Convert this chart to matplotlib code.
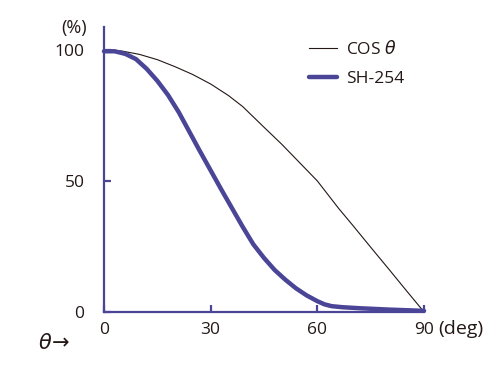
import numpy as np
import matplotlib.pyplot as plt

plt.rcParams['font.family'] = ['Open Sans', 'DejaVu Sans']
plt.rcParams['mathtext.fontset'] = 'dejavusans'

# ── data ─────────────────────────────────────────────────────────────────────
angle_cos = [0, 5, 10, 15, 20, 25, 30, 35, 39, 45, 50, 55, 60, 66, 70, 75, 80, 85, 90]
cos_vals = [100, 99.6, 98.3, 96.3, 93.6, 90.6, 87.0, 82.6, 78.4, 70.5, 64.0, 57.0,
            50.0, 39.5, 33.0, 24.7, 16.5, 8.2, 0]

angle_sh = [0, 3, 6, 9, 12, 15, 18, 21, 24, 27, 30, 33, 36, 39, 42, 45, 48, 51,
            54, 57, 60, 62, 64, 67, 72, 80, 90]
sh_vals = [99.5, 99.5, 98.5, 96.5, 92.8, 88.2, 82.8, 76.3, 68.8, 61.3, 54.0, 46.7,
           39.6, 32.5, 25.8, 20.6, 16.0, 12.3, 9.0, 6.3, 4.1, 2.9, 2.2, 1.8, 1.4,
           0.9, 0.4]

x_ticks = [0, 30, 60, 90]
y_ticks = [0, 50, 100]

PURPLE = '#4a4596'
INK = '#231815'

fig = plt.figure(figsize=(5, 3.79), dpi=100)
ax = fig.add_axes([0.208, 0.177, 0.64, 0.752])

ax.plot(angle_cos, cos_vals, color=INK, lw=0.8, label='COS $\\theta$', clip_on=False, zorder=3)
ax.plot(angle_sh, sh_vals, color=PURPLE, lw=3.2, label='SH-254', clip_on=False,
        solid_capstyle='round', solid_joinstyle='round', zorder=4)

ax.set_xlim(0, 90)
ax.set_ylim(0, 108.8)
for s in ['top', 'right']:
    ax.spines[s].set_visible(False)
for s in ['left', 'bottom']:
    ax.spines[s].set_color(PURPLE)
    ax.spines[s].set_linewidth(1.6)
ax.spines['bottom'].set_bounds(0, 90)

ax.set_xticks(x_ticks)
ax.set_yticks(y_ticks)
ax.tick_params(direction='in', length=5, width=1.6, color=PURPLE,
               labelsize=12.5, labelcolor=INK)
ax.tick_params(axis='x', pad=7)
ax.tick_params(axis='y', pad=14)

fig.text(0.122, 0.926, '(%)', fontsize=13, color=INK, ha='left', va='center')
fig.text(0.876, 0.133, '(deg)', fontsize=14, color=INK, ha='left', va='center')
fig.text(0.076, 0.093, '$\\theta\\!\\rightarrow$', fontsize=15, color=INK,
         ha='left', va='center')

ax.legend(loc='center left', bbox_to_anchor=(0.618, 0.833), bbox_transform=fig.transFigure,
          frameon=False, fontsize=12.5, handlelength=1.6, labelspacing=0.75,
          handletextpad=0.55, borderpad=0, borderaxespad=0, labelcolor=INK)

plt.savefig('out.png', dpi=100)
plt.close()
